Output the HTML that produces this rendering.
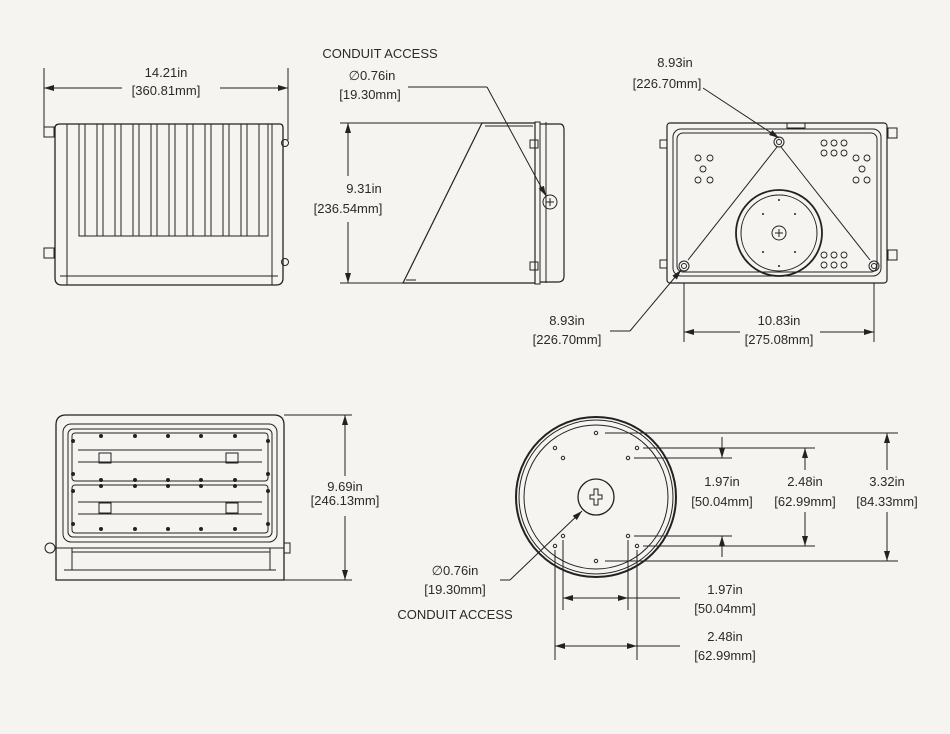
<!DOCTYPE html>
<html><head><meta charset="utf-8"><style>
html,body{margin:0;padding:0;background:#f6f4f1;}
svg{display:block}
text{font-family:"Liberation Sans",sans-serif;font-size:13px;fill:#2a2a2a;text-anchor:middle}
</style></head><body>
<svg width="950" height="734" viewBox="0 0 950 734" xmlns="http://www.w3.org/2000/svg">
<defs>
<marker id="a" viewBox="0 0 10 6" refX="10" refY="3" markerWidth="10" markerHeight="6" orient="auto-start-reverse" markerUnits="userSpaceOnUse"><path d="M0,0 L10,3 L0,6z" fill="#222"/></marker>
</defs>
<rect width="950" height="734" fill="#f6f4f1"/>
<g stroke="#222" fill="none" stroke-width="1">
<!-- VIEW 1 front -->
<line x1="44" y1="68" x2="44" y2="130"/><line x1="288" y1="68" x2="288" y2="140"/>
<line x1="44" y1="88" x2="122" y2="88" marker-start="url(#a)"/><line x1="220" y1="88" x2="288" y2="88" marker-end="url(#a)"/>
<path d="M55,128 Q55,124 60,124 L280,124 Q283,124 283,128 L283,278 Q283,285 276,285 L62,285 Q55,285 55,278 Z" stroke-width="1.3"/>
<line x1="67" y1="124" x2="67" y2="285"/><line x1="272" y1="124" x2="272" y2="285"/>
<line x1="60" y1="276" x2="278" y2="276"/>
<rect x="79" y="124" width="189" height="112"/>
<g stroke-width="1">
<path d="M85,124V236M97,124V236M103,124V236M115,124V236M121,124V236M133,124V236M139,124V236M151,124V236M157,124V236M169,124V236M175,124V236M187,124V236M193,124V236M205,124V236M211,124V236M223,124V236M229,124V236M241,124V236M247,124V236M259,124V236"/>
</g>
<rect x="44" y="127" width="10" height="10"/><rect x="44" y="248" width="10" height="10"/>
<circle cx="285" cy="143" r="3.5"/><circle cx="285" cy="262" r="3.5"/>
<!-- VIEW 2 side -->
<line x1="340" y1="123" x2="482" y2="123"/><line x1="340" y1="283" x2="405" y2="283"/>
<line x1="348" y1="123" x2="348" y2="176" marker-start="url(#a)"/><line x1="348" y1="222" x2="348" y2="283" marker-end="url(#a)"/>
<path d="M482,123 L535,123 L535,283 L403,283 Z" stroke-width="1.2"/>
<line x1="485" y1="126" x2="533" y2="126"/><line x1="406" y1="280" x2="416" y2="280"/>
<rect x="535" y="122" width="5" height="162"/>
<path d="M540,124 L560,124 Q564,124 564,130 L564,276 Q564,282 558,282 L540,282" stroke-width="1.2"/>
<line x1="546" y1="122" x2="546" y2="283"/>
<rect x="530" y="140" width="8" height="8"/><rect x="530" y="262" width="8" height="8"/>
<circle cx="550" cy="202" r="7"/><path d="M546,202h8M550,198v8"/>
<line x1="408" y1="87" x2="487" y2="87"/><line x1="487" y1="87" x2="546" y2="196" marker-end="url(#a)"/>
<!-- VIEW 3 back -->
<rect x="667" y="123" width="220" height="160" rx="3" stroke-width="1.2"/>
<rect x="673" y="129" width="208" height="147" rx="8"/>
<rect x="677" y="133" width="200" height="139" rx="6"/>
<rect x="787" y="123" width="18" height="5"/>
<rect x="888" y="128" width="9" height="10"/><rect x="888" y="250" width="9" height="10"/>
<rect x="660" y="140" width="7" height="8"/><rect x="660" y="260" width="7" height="8"/>
<circle cx="779" cy="233" r="43" stroke-width="1.8"/><circle cx="779" cy="233" r="38"/>
<circle cx="779" cy="233" r="7"/><path d="M775,233h8M779,229v8"/>
<g fill="#222" stroke="none"><circle cx="779" cy="200" r="1"/><circle cx="779" cy="266" r="1"/><circle cx="763" cy="214" r="1"/><circle cx="795" cy="214" r="1"/><circle cx="763" cy="252" r="1"/><circle cx="795" cy="252" r="1"/></g>
<circle cx="779" cy="142" r="5"/><circle cx="779" cy="142" r="2.5"/>
<circle cx="684" cy="266" r="5"/><circle cx="684" cy="266" r="2.5"/>
<circle cx="874" cy="266" r="5"/><circle cx="874" cy="266" r="2.5"/>
<line x1="777" y1="147" x2="688" y2="260"/><line x1="781" y1="147" x2="870" y2="260"/>
<g stroke-width="0.9">
<circle cx="698" cy="158" r="3"/><circle cx="710" cy="158" r="3"/><circle cx="703" cy="169" r="3"/><circle cx="698" cy="180" r="3"/><circle cx="710" cy="180" r="3"/>
<circle cx="856" cy="158" r="3"/><circle cx="867" cy="158" r="3"/><circle cx="862" cy="169" r="3"/><circle cx="856" cy="180" r="3"/><circle cx="867" cy="180" r="3"/>
<circle cx="824" cy="143" r="3"/><circle cx="834" cy="143" r="3"/><circle cx="844" cy="143" r="3"/><circle cx="824" cy="153" r="3"/><circle cx="834" cy="153" r="3"/><circle cx="844" cy="153" r="3"/>
<circle cx="824" cy="255" r="3"/><circle cx="834" cy="255" r="3"/><circle cx="844" cy="255" r="3"/><circle cx="824" cy="265" r="3"/><circle cx="834" cy="265" r="3"/><circle cx="844" cy="265" r="3"/>
</g>
<line x1="703" y1="88" x2="779" y2="138" marker-end="url(#a)"/>
<line x1="684" y1="283" x2="684" y2="342"/><line x1="874" y1="283" x2="874" y2="342"/>
<line x1="684" y1="332" x2="740" y2="332" marker-start="url(#a)"/><line x1="820" y1="332" x2="874" y2="332" marker-end="url(#a)"/>
<line x1="610" y1="331" x2="630" y2="331"/><line x1="630" y1="331" x2="681" y2="270" marker-end="url(#a)"/>
<!-- VIEW 4 -->
<path d="M56,425 Q56,415 66,415 L274,415 Q284,415 284,425 L284,580 L56,580 Z" stroke-width="1.3"/>
<rect x="63" y="424" width="214" height="118" rx="8"/>
<rect x="68" y="429" width="204" height="108" rx="5"/>
<rect x="72" y="433" width="196" height="48" rx="3"/>
<rect x="72" y="485" width="196" height="48" rx="3"/>
<path d="M78,450h184M78,462h184M78,502h184M78,514h184"/>
<rect x="99" y="453" width="12" height="10"/><rect x="226" y="453" width="12" height="10"/>
<rect x="99" y="503" width="12" height="10"/><rect x="226" y="503" width="12" height="10"/>
<line x1="56" y1="548" x2="284" y2="548"/><line x1="72" y1="552" x2="270" y2="552"/>
<line x1="64" y1="570" x2="276" y2="570"/><line x1="72" y1="548" x2="72" y2="570"/><line x1="270" y1="548" x2="270" y2="570"/>
<circle cx="50" cy="548" r="5"/><rect x="284" y="543" width="6" height="10"/>
<g fill="#222" stroke="none">
<circle cx="101" cy="436" r="2"/><circle cx="135" cy="436" r="2"/><circle cx="168" cy="436" r="2"/><circle cx="201" cy="436" r="2"/><circle cx="235" cy="436" r="2"/>
<circle cx="101" cy="480" r="2"/><circle cx="135" cy="480" r="2"/><circle cx="168" cy="480" r="2"/><circle cx="201" cy="480" r="2"/><circle cx="235" cy="480" r="2"/>
<circle cx="101" cy="486" r="2"/><circle cx="135" cy="486" r="2"/><circle cx="168" cy="486" r="2"/><circle cx="201" cy="486" r="2"/><circle cx="235" cy="486" r="2"/>
<circle cx="101" cy="529" r="2"/><circle cx="135" cy="529" r="2"/><circle cx="168" cy="529" r="2"/><circle cx="201" cy="529" r="2"/><circle cx="235" cy="529" r="2"/>
<circle cx="73" cy="441" r="2"/><circle cx="268" cy="441" r="2"/><circle cx="73" cy="474" r="2"/><circle cx="268" cy="474" r="2"/>
<circle cx="73" cy="491" r="2"/><circle cx="268" cy="491" r="2"/><circle cx="73" cy="524" r="2"/><circle cx="268" cy="524" r="2"/>
</g>
<line x1="284" y1="415" x2="352" y2="415"/><line x1="284" y1="580" x2="352" y2="580"/>
<line x1="345" y1="415" x2="345" y2="476" marker-start="url(#a)"/><line x1="345" y1="516" x2="345" y2="580" marker-end="url(#a)"/>
<!-- VIEW 5 circle -->
<circle cx="596" cy="497" r="80" stroke-width="2"/><circle cx="596" cy="497" r="77"/><circle cx="596" cy="497" r="72"/>
<circle cx="596" cy="497" r="18" stroke-width="1.3"/>
<path d="M590,495h4v-6h4v6h4v4h-4v6h-4v-6h-4z"/>
<g stroke-width="1">
<circle cx="596" cy="433" r="1.7"/><circle cx="555" cy="448" r="1.7"/><circle cx="637" cy="448" r="1.7"/><circle cx="563" cy="458" r="1.7"/><circle cx="628" cy="458" r="1.7"/>
<circle cx="563" cy="536" r="1.7"/><circle cx="628" cy="536" r="1.7"/><circle cx="555" cy="546" r="1.7"/><circle cx="637" cy="546" r="1.7"/><circle cx="596" cy="561" r="1.7"/>
</g>
<line x1="605" y1="433" x2="898" y2="433"/><line x1="643" y1="448" x2="815" y2="448"/><line x1="634" y1="458" x2="732" y2="458"/>
<line x1="634" y1="536" x2="732" y2="536"/><line x1="643" y1="546" x2="815" y2="546"/><line x1="605" y1="561" x2="898" y2="561"/>
<line x1="722" y1="437" x2="722" y2="458" marker-end="url(#a)"/><line x1="722" y1="557" x2="722" y2="536" marker-end="url(#a)"/>
<line x1="805" y1="448" x2="805" y2="470" marker-start="url(#a)"/><line x1="805" y1="512" x2="805" y2="546" marker-end="url(#a)"/>
<line x1="887" y1="433" x2="887" y2="470" marker-start="url(#a)"/><line x1="887" y1="512" x2="887" y2="561" marker-end="url(#a)"/>
<line x1="563" y1="540" x2="563" y2="610"/><line x1="628" y1="540" x2="628" y2="610"/>
<line x1="555" y1="550" x2="555" y2="660"/><line x1="637" y1="550" x2="637" y2="660"/>
<line x1="563" y1="598" x2="628" y2="598" marker-start="url(#a)" marker-end="url(#a)"/><line x1="628" y1="598" x2="680" y2="598"/>
<line x1="555" y1="646" x2="637" y2="646" marker-start="url(#a)" marker-end="url(#a)"/><line x1="637" y1="646" x2="680" y2="646"/>
<line x1="500" y1="580" x2="510" y2="580"/><line x1="510" y1="580" x2="582" y2="511" marker-end="url(#a)"/>
</g>
<g>
<text x="166" y="77">14.21in</text><text x="166" y="95">[360.81mm]</text>
<text x="380" y="58">CONDUIT ACCESS</text>
<text x="372" y="80">∅0.76in</text><text x="370" y="99">[19.30mm]</text>
<text x="364" y="193">9.31in</text><text x="348" y="213">[236.54mm]</text>
<text x="675" y="67">8.93in</text><text x="667" y="88">[226.70mm]</text>
<text x="567" y="325">8.93in</text><text x="567" y="344">[226.70mm]</text>
<text x="779" y="325">10.83in</text><text x="779" y="344">[275.08mm]</text>
<text x="345" y="491">9.69in</text><text x="345" y="505">[246.13mm]</text>
<text x="722" y="486">1.97in</text><text x="722" y="506">[50.04mm]</text>
<text x="805" y="486">2.48in</text><text x="805" y="506">[62.99mm]</text>
<text x="887" y="486">3.32in</text><text x="887" y="506">[84.33mm]</text>
<text x="725" y="594">1.97in</text><text x="725" y="613">[50.04mm]</text>
<text x="725" y="641">2.48in</text><text x="725" y="660">[62.99mm]</text>
<text x="455" y="575">∅0.76in</text><text x="455" y="594">[19.30mm]</text>
<text x="455" y="619">CONDUIT ACCESS</text>
</g>
</svg>
</body></html>
